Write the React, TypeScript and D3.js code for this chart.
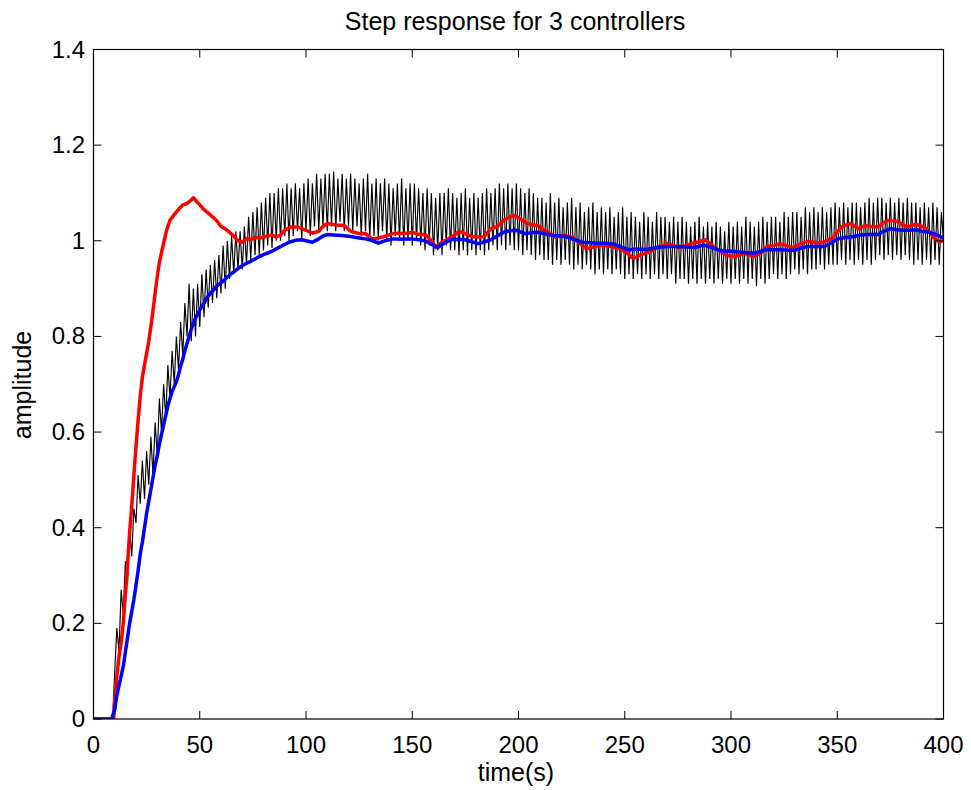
import React from "react";
import * as d3 from "d3";

const titleText = "Step response for 3 controllers";
const xLabelText = "time(s)";
const yLabelText = "amplitude";
const xTicks = [0, 50, 100, 150, 200, 250, 300, 350, 400];
const yTicks = [0, 0.2, 0.4, 0.6, 0.8, 1, 1.2, 1.4];

// black: sampled every 1 s from t = 0
const blackValues = [
  0, 0, 0, 0, 0, 0, 0, 0, 0, 0,
  0.10, 0.19, 0.14, 0.27, 0.22, 0.33, 0.28, 0.40, 0.34, 0.44,
  0.41, 0.51, 0.45, 0.54, 0.46, 0.56, 0.49, 0.59, 0.51, 0.62,
  0.55, 0.67, 0.6, 0.7, 0.63, 0.74, 0.67, 0.77, 0.7, 0.8,
  0.73, 0.83, 0.76, 0.87, 0.8, 0.91, 0.79, 0.9, 0.8, 0.91,
  0.82, 0.93, 0.84, 0.94, 0.86, 0.95, 0.87, 0.96, 0.88, 0.97,
  0.89, 0.99, 0.9, 1.0, 0.92, 1.01, 0.93, 1.02, 0.94, 1.02,
  0.94, 1.03, 0.95, 1.05, 0.96, 1.06, 0.97, 1.07, 0.97, 1.08,
  0.98, 1.09, 0.99, 1.1, 0.985, 1.1, 1.0, 1.11, 1.0, 1.11,
  1.01, 1.12, 1.0, 1.11, 1.01, 1.12, 1.02, 1.11, 1.0, 1.12,
  1.02, 1.13, 1.01, 1.12, 1.03, 1.14, 1.02, 1.13, 1.03, 1.14,
  1.02, 1.14, 1.03, 1.145, 1.02, 1.13, 1.04, 1.14, 1.02, 1.13,
  1.03, 1.14, 1.02, 1.13, 1.03, 1.12, 1.01, 1.13, 1.02, 1.14,
  1.0, 1.12, 1.01, 1.13, 1.0, 1.12, 1.02, 1.13, 1.0, 1.12,
  0.99, 1.11, 1.01, 1.12, 1.0, 1.13, 0.99, 1.11, 1.0, 1.12,
  0.99, 1.12, 1.0, 1.11, 0.99, 1.1, 0.98, 1.11, 0.99, 1.1,
  0.97, 1.09, 0.98, 1.1, 0.97, 1.1, 0.99, 1.11, 0.98, 1.1,
  0.98, 1.09, 0.97, 1.1, 0.98, 1.11, 0.97, 1.09, 0.98, 1.1,
  0.97, 1.09, 0.98, 1.1, 0.97, 1.11, 0.98, 1.1, 0.99, 1.11,
  0.98, 1.12, 0.99, 1.11, 0.98, 1.12, 0.99, 1.11, 0.98, 1.12,
  0.98, 1.11, 0.97, 1.1, 0.98, 1.11, 0.97, 1.1, 0.96, 1.09,
  0.97, 1.09, 0.96, 1.08, 0.96, 1.1, 0.95, 1.08, 0.96, 1.09,
  0.95, 1.07, 0.96, 1.08, 0.95, 1.09, 0.94, 1.07, 0.95, 1.08,
  0.94, 1.06, 0.95, 1.07, 0.94, 1.08, 0.93, 1.06, 0.94, 1.07,
  0.93, 1.06, 0.94, 1.07, 0.93, 1.05, 0.94, 1.06, 0.93, 1.07,
  0.92, 1.05, 0.93, 1.06, 0.92, 1.05, 0.93, 1.04, 0.92, 1.06,
  0.93, 1.05, 0.92, 1.04, 0.93, 1.06, 0.92, 1.05, 0.93, 1.05,
  0.92, 1.04, 0.93, 1.05, 0.91, 1.04, 0.92, 1.05, 0.92, 1.04,
  0.91, 1.03, 0.92, 1.04, 0.91, 1.05, 0.92, 1.03, 0.91, 1.04,
  0.92, 1.03, 0.91, 1.04, 0.92, 1.03, 0.91, 1.02, 0.92, 1.04,
  0.91, 1.03, 0.92, 1.04, 0.91, 1.03, 0.92, 1.05, 0.91, 1.04,
  0.92, 1.03, 0.905, 1.04, 0.92, 1.05, 0.91, 1.04, 0.92, 1.05,
  0.93, 1.05, 0.92, 1.04, 0.93, 1.06, 0.92, 1.05, 0.93, 1.06,
  0.94, 1.06, 0.93, 1.05, 0.94, 1.07, 0.93, 1.06, 0.94, 1.07,
  0.94, 1.06, 0.95, 1.07, 0.94, 1.06, 0.95, 1.07, 0.95, 1.08,
  0.95, 1.07, 0.96, 1.08, 0.95, 1.07, 0.96, 1.08, 0.95, 1.08,
  0.96, 1.07, 0.95, 1.08, 0.96, 1.09, 0.95, 1.08, 0.96, 1.09,
  0.97, 1.09, 0.96, 1.08, 0.97, 1.09, 0.96, 1.08, 0.97, 1.09,
  0.96, 1.08, 0.97, 1.09, 0.96, 1.08, 0.95, 1.08, 0.96, 1.07,
  0.95, 1.08, 0.96, 1.07, 0.95, 1.08, 0.96, 1.07, 0.95, 1.06,
  1.0,
];

const redPoints: [number, number][] = [
  [0, 0], [9.5, 0], [10, 0.04], [11, 0.09], [12, 0.13], [13, 0.16], [14, 0.2], [15, 0.26],
  [16, 0.32], [17, 0.39], [18, 0.445], [19, 0.51], [20, 0.57], [21, 0.625], [22, 0.675],
  [23, 0.715], [24, 0.74], [25, 0.765], [26, 0.79], [27, 0.82], [28, 0.855], [29, 0.89],
  [30, 0.925], [31, 0.955], [32, 0.975], [33, 0.995], [34, 1.015], [35, 1.03], [36, 1.043],
  [38, 1.055], [40, 1.065], [42, 1.075], [44, 1.078], [46, 1.085], [47, 1.09], [48, 1.085],
  [50, 1.075], [52, 1.065], [54, 1.058], [56, 1.05], [58, 1.042], [60, 1.03], [62, 1.025],
  [64, 1.018], [66, 1.01], [68, 1.0], [70, 0.997], [72, 1.005], [74, 1.002], [76, 1.008],
  [78, 1.005], [80, 1.008], [82, 1.01], [84, 1.012], [86, 1.008], [88, 1.012], [90, 1.022],
  [93, 1.029], [96, 1.029], [100, 1.022], [103, 1.016], [106, 1.02], [108, 1.03], [110, 1.036],
  [114, 1.033], [118, 1.032], [121, 1.02], [125, 1.015], [128, 1.015], [131, 1.004],
  [134, 1.006], [137, 1.009], [140, 1.014], [142, 1.016], [146, 1.015], [150, 1.018],
  [153, 1.013], [156, 1.013], [159, 1.0], [161, 0.986], [164, 0.997], [167, 1.004],
  [170, 1.012], [172, 1.02], [175, 1.015], [178, 1.009], [181, 1.008], [184, 1.009],
  [187, 1.025], [190, 1.03], [193, 1.043], [196, 1.05], [198, 1.053], [201, 1.046],
  [204, 1.036], [207, 1.033], [209, 1.032], [212, 1.022], [215, 1.015], [217, 1.008],
  [220, 1.01], [222, 1.011], [226, 1.006], [229, 0.995], [232, 0.983], [235, 0.987],
  [238, 0.99], [241, 0.99], [244, 0.988], [248, 0.983], [251, 0.975], [254, 0.963],
  [257, 0.97], [260, 0.974], [263, 0.98], [265, 0.986], [268, 0.99], [270, 0.994],
  [273, 0.99], [275, 0.986], [279, 0.99], [282, 0.995], [285, 0.998], [288, 1.002],
  [290, 0.995], [292, 0.986], [295, 0.978], [298, 0.969], [302, 0.967], [306, 0.974],
  [309, 0.97], [311, 0.967], [314, 0.975], [317, 0.988], [320, 0.99], [323, 0.994],
  [326, 0.99], [329, 0.986], [332, 0.992], [336, 0.999], [339, 0.997], [342, 0.995],
  [345, 1.0], [348, 1.006], [350, 1.018], [352, 1.029], [356, 1.036], [360, 1.025],
  [363, 1.032], [366, 1.03], [369, 1.029], [372, 1.038], [374, 1.043], [378, 1.041],
  [381, 1.033], [383, 1.029], [387, 1.034], [390, 1.03], [392, 1.025], [394, 1.015],
  [396, 1.004], [398, 0.998], [400, 1.0],
];

const bluePoints: [number, number][] = [
  [0, 0], [8.5, 0], [10, 0.02], [11, 0.05], [12, 0.07], [13, 0.09], [14, 0.11], [15, 0.14],
  [16, 0.17], [17, 0.2], [18, 0.225], [19, 0.25], [20, 0.28], [21, 0.31], [22, 0.345],
  [23, 0.37], [24, 0.4], [25, 0.43], [26, 0.455], [27, 0.48], [28, 0.505], [29, 0.53],
  [30, 0.55], [31, 0.575], [32, 0.595], [33, 0.615], [34, 0.635], [35, 0.655], [36, 0.67],
  [37, 0.685], [38, 0.695], [39, 0.705], [40, 0.72], [41, 0.738], [42, 0.752], [43, 0.77],
  [44, 0.785], [45, 0.8], [46, 0.815], [47, 0.827], [48, 0.838], [50, 0.855], [52, 0.87],
  [54, 0.885], [56, 0.895], [58, 0.905], [60, 0.912], [62, 0.92], [64, 0.928], [66, 0.935],
  [68, 0.942], [70, 0.948], [72, 0.953], [74, 0.957], [76, 0.962], [78, 0.967], [80, 0.971],
  [83, 0.976], [86, 0.983], [89, 0.99], [92, 0.997], [95, 1.001], [98, 1.002], [100, 1.0],
  [103, 0.997], [106, 1.004], [108, 1.01], [110, 1.013], [113, 1.012], [117, 1.011],
  [121, 1.009], [125, 1.006], [128, 1.004], [131, 1.001], [134, 0.995], [137, 1.0],
  [141, 1.004], [145, 1.003], [149, 1.004], [153, 1.002], [156, 1.0], [159, 0.993],
  [162, 0.986], [165, 0.995], [168, 1.002], [171, 1.003], [175, 1.002], [178, 0.998],
  [181, 0.994], [184, 0.998], [187, 1.002], [190, 1.01], [193, 1.018], [196, 1.021],
  [199, 1.022], [203, 1.015], [206, 1.017], [209, 1.018], [212, 1.015], [216, 1.011],
  [220, 1.01], [223, 1.008], [226, 1.003], [230, 0.997], [234, 0.996], [238, 0.995],
  [241, 0.995], [244, 0.994], [248, 0.988], [252, 0.981], [256, 0.983], [260, 0.982],
  [264, 0.985], [267, 0.987], [271, 0.988], [275, 0.988], [279, 0.987], [283, 0.986],
  [286, 0.99], [288, 0.99], [291, 0.986], [294, 0.981], [297, 0.978], [300, 0.978],
  [305, 0.976], [308, 0.975], [311, 0.974], [314, 0.978], [316, 0.981], [320, 0.981],
  [324, 0.981], [327, 0.98], [330, 0.98], [333, 0.985], [336, 0.988], [340, 0.988],
  [344, 0.988], [347, 0.995], [350, 1.004], [354, 1.007], [358, 1.009], [361, 1.012],
  [365, 1.013], [369, 1.013], [372, 1.02], [375, 1.025], [378, 1.023], [381, 1.022],
  [384, 1.022], [387, 1.023], [390, 1.02], [393, 1.018], [396, 1.014], [400, 1.006],
];

const W = 971;
const H = 790;
const left = 93.5;
const right = 943.5;
const top = 49.5;
const bottom = 719;
const FONT = "'Liberation Sans', Arial, Helvetica, sans-serif";

export default function App() {
  const x = d3.scaleLinear().domain([0, 400]).range([left, right]);
  const y = d3.scaleLinear().domain([0, 1.4]).range([bottom, top]);
  const line = d3
    .line<[number, number]>()
    .x((d) => x(d[0]))
    .y((d) => y(d[1]));
  const blackPts: [number, number][] = blackValues.map((v, i) => [i, v]);
  const tickLen = 8;

  return (
    <svg
      width={W}
      height={H}
      style={{ position: "absolute", left: 0, top: 0, background: "#fff" }}
      fontFamily={FONT}
    >
      <rect x={0} y={0} width={W} height={H} fill="#fff" />
      <defs>
        <clipPath id="plotclip">
          <rect x={left} y={top} width={right - left} height={bottom - top} />
        </clipPath>
      </defs>
      <g clipPath="url(#plotclip)">
        <path d={line(blackPts) || ""} fill="none" stroke="#000" strokeWidth={1.15} />
        <path d={line(redPoints) || ""} fill="none" stroke="#ff0000" strokeWidth={3.5} strokeLinejoin="round" />
        <path d={line(bluePoints) || ""} fill="none" stroke="#0000ff" strokeWidth={3.5} strokeLinejoin="round" />
      </g>
      <rect x={left} y={top} width={right - left} height={bottom - top} fill="none" stroke="#000" strokeWidth={1.2} />
      {xTicks.map((t) => (
        <g key={"xt" + t}>
          <line x1={x(t)} x2={x(t)} y1={bottom} y2={bottom - tickLen} stroke="#000" />
          <line x1={x(t)} x2={x(t)} y1={top} y2={top + tickLen} stroke="#000" />
          <text x={x(t)} y={753} textAnchor="middle" fontSize={24}>
            {String(t)}
          </text>
        </g>
      ))}
      {yTicks.map((t) => (
        <g key={"yt" + t}>
          <line x1={left} x2={left + tickLen} y1={y(t)} y2={y(t)} stroke="#000" />
          <line x1={right} x2={right - tickLen} y1={y(t)} y2={y(t)} stroke="#000" />
          <text x={85} y={y(t) + 8} textAnchor="end" fontSize={24}>
            {d3.format("")(t)}
          </text>
        </g>
      ))}
      <text x={515} y={30} textAnchor="middle" fontSize={25}>
        {titleText}
      </text>
      <text x={516} y={781} textAnchor="middle" fontSize={25}>
        {xLabelText}
      </text>
      <text transform={`translate(31, 385) rotate(-90)`} textAnchor="middle" fontSize={25}>
        {yLabelText}
      </text>
    </svg>
  );
}
